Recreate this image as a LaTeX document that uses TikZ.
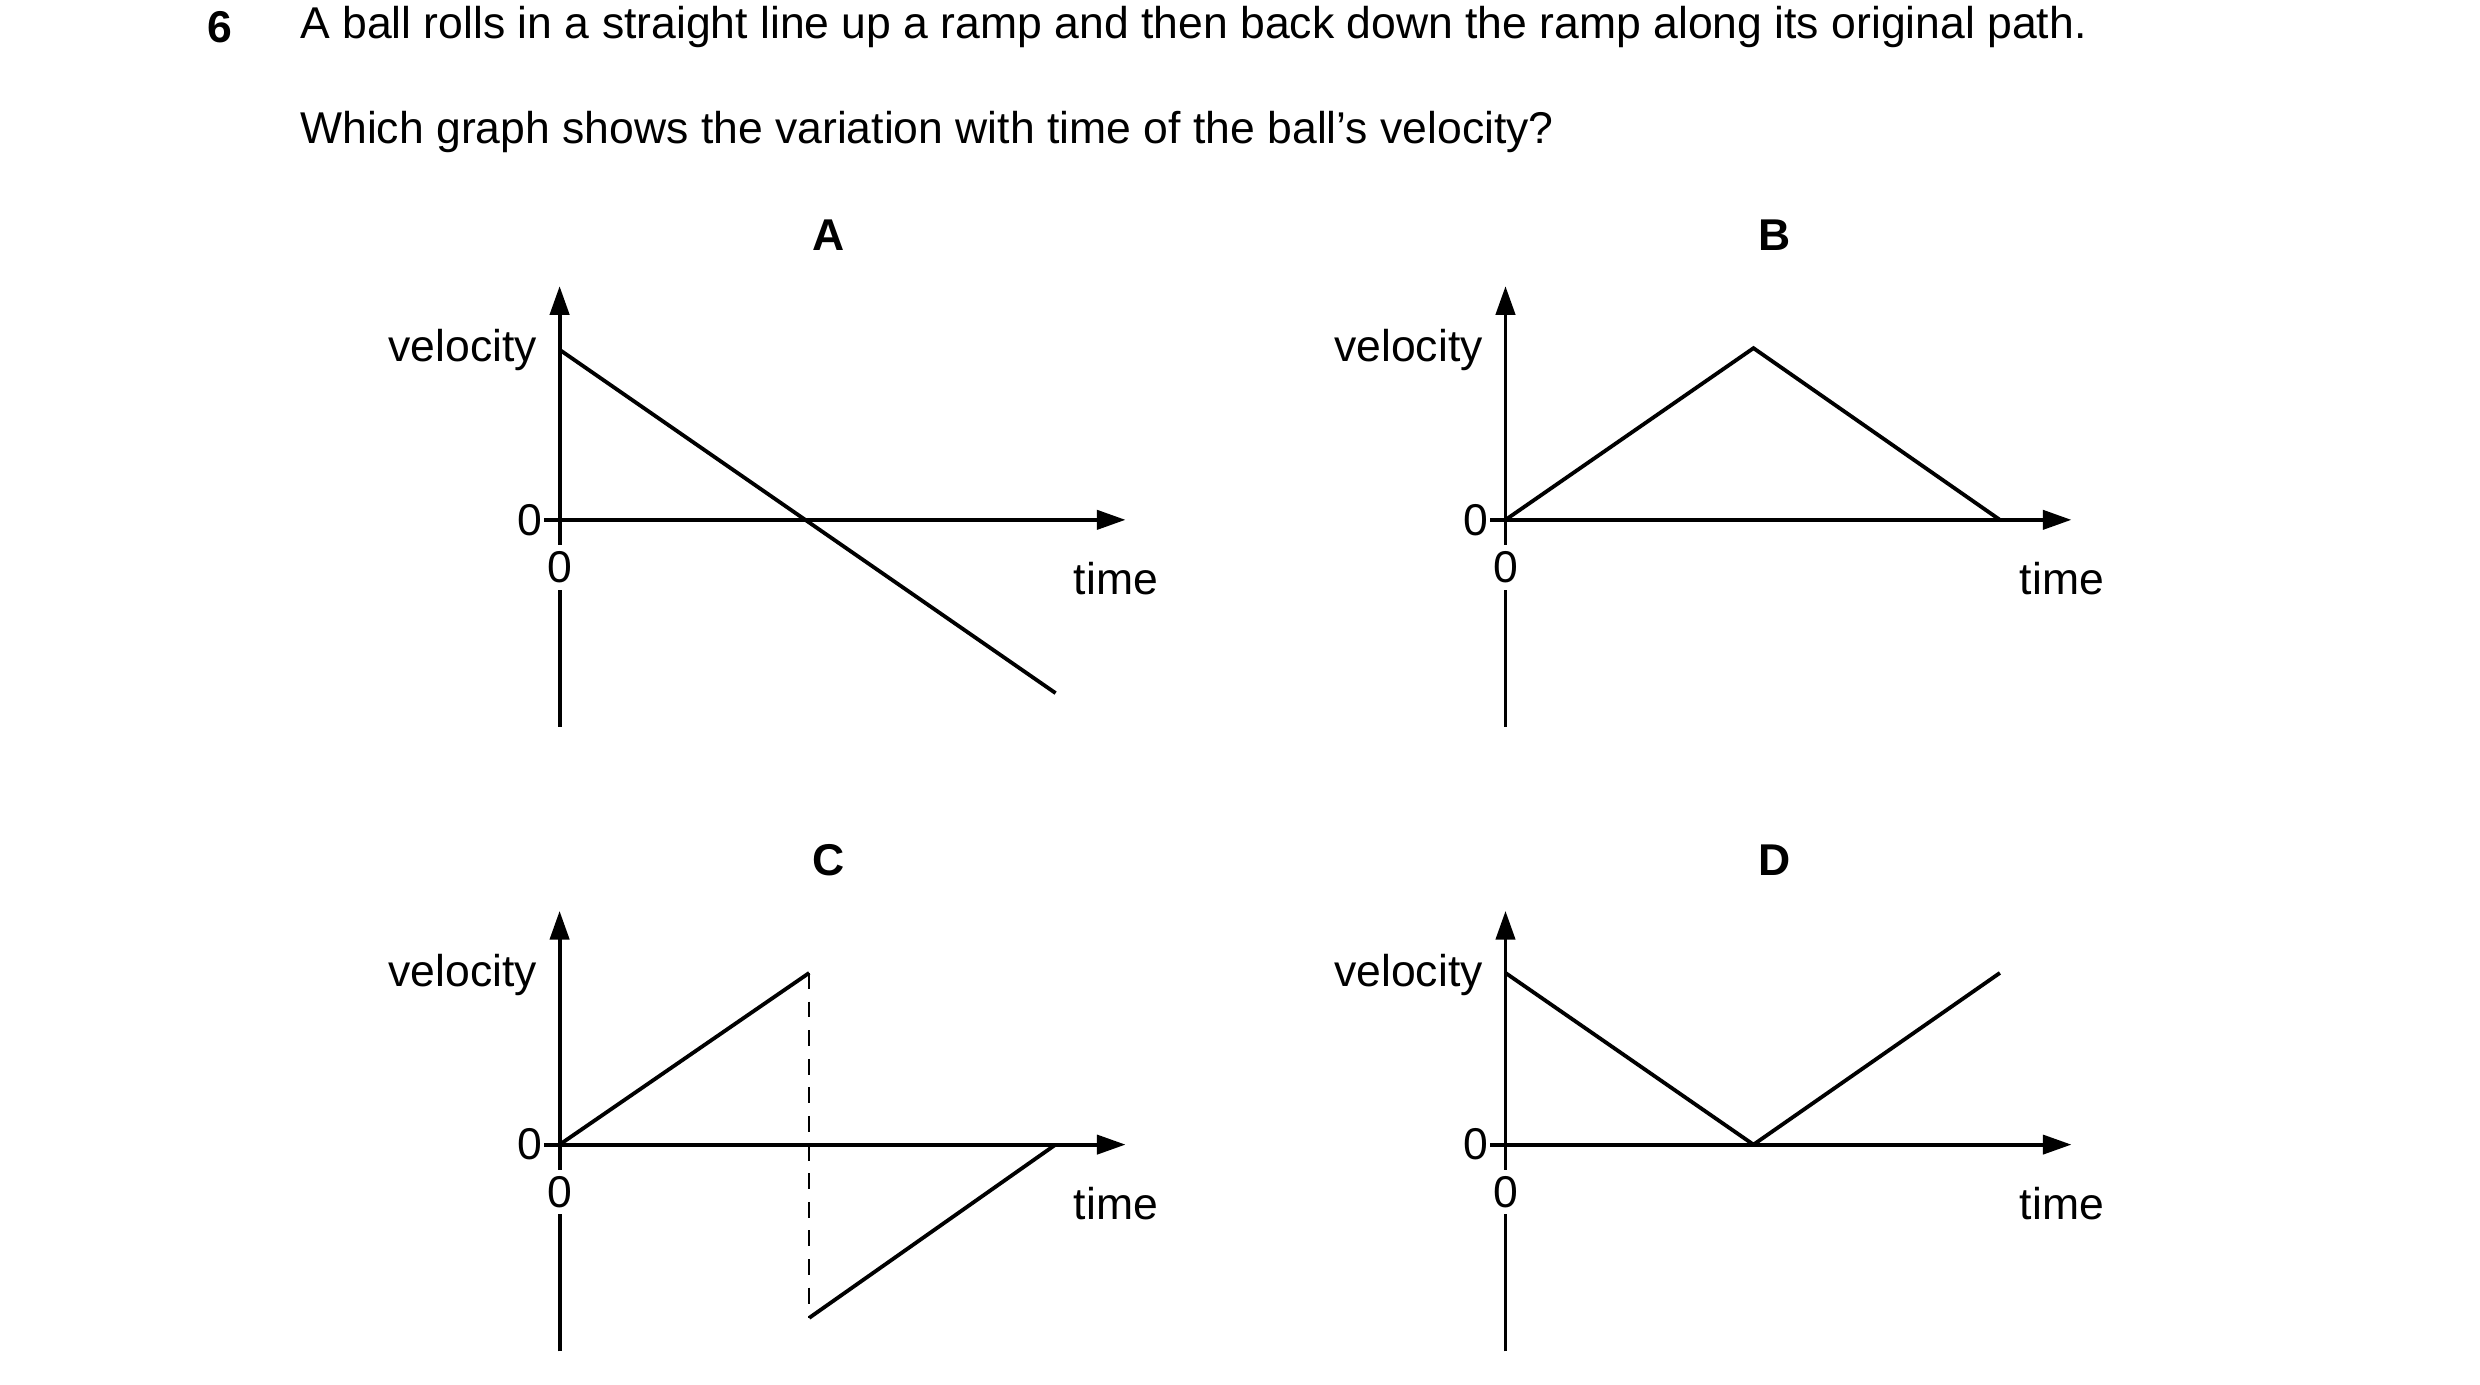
\documentclass[tikz,border=0pt]{standalone}
\usepackage{fontspec}
\setmainfont{Liberation Sans}
\usetikzlibrary{arrows.meta}
\tikzset{
  axis/.style={line width=1.2pt,-{Triangle[length=9pt,width=6pt]}},
  graph/.style={line width=1.2pt},
  lbl/.style={inner sep=0.75pt,font=\fontsize{14}{16}\selectfont},
  zero/.style={lbl,fill=white,inner sep=2pt}
}
\begin{document}
\begin{tikzpicture}[x=0.5pt,y=0.5pt,yscale=-1,xscale=1]
\useasboundingbox (0,0) rectangle (1560,871);
% question text
\node[lbl,font=\fontsize{14}{16}\selectfont\bfseries] (qnum) at (138,17) {6};
\node[lbl,anchor=west] (q1) at (187,17) {A ball rolls in a straight line up a ramp and then back down the ramp along its original path.};
\node[lbl,anchor=west] (q2) at (187,83) {Which graph shows the variation with time of the ball’s velocity?};
% the four graphs
\foreach \ox/\oy/\name in {0/0/A,595/0/B,0/393/C,595/393/D}{
  \begin{scope}[shift={(\ox,\oy)}]
    \node[lbl,font=\fontsize{14}{16}\selectfont\bfseries] (title\name) at (521,148) {\name};
    \coordinate (o\name) at (352,327);
    \coordinate (b\name) at (352,457);
    \coordinate (t\name) at (352,180);
    \coordinate (r\name) at (708,327);
    \draw[graph] (b\name) -- (o\name);
    \draw[axis] (o\name) -- (t\name);
    \draw[axis] (o\name) -- (r\name);
    \draw[graph] (o\name) -- ++(-10,0);
    \node[zero] (zx\name) at (352,357) {0};
    \node[lbl,anchor=east] (zy\name) at (343,327) {0};
    \node[lbl] (vel\name) at (291,220) {velocity};
    \node[lbl] (time\name) at (702,364) {time};
  \end{scope}
}
% A
\coordinate (a1) at (352,220); \coordinate (a2) at (664,436);
\draw[graph] (a1) -- (a2);
% B
\coordinate (b1) at (1103,219); \coordinate (b2) at (1258,327);
\draw[graph] (oB) -- (b1) -- (b2);
% C
\coordinate (c1) at (509,612); \coordinate (c2) at (509,829); \coordinate (c3) at (664,720);
\draw[graph] (oC) -- (c1);
\draw[dash pattern={on 5pt off 4pt},line width=0.6pt] (c1) -- (c2);
\draw[graph] (c2) -- (c3);
% D
\coordinate (d1) at (947,612); \coordinate (d2) at (1103,720); \coordinate (d3) at (1258,612);
\draw[graph] (d1) -- (d2) -- (d3);
\end{tikzpicture}
\end{document}
